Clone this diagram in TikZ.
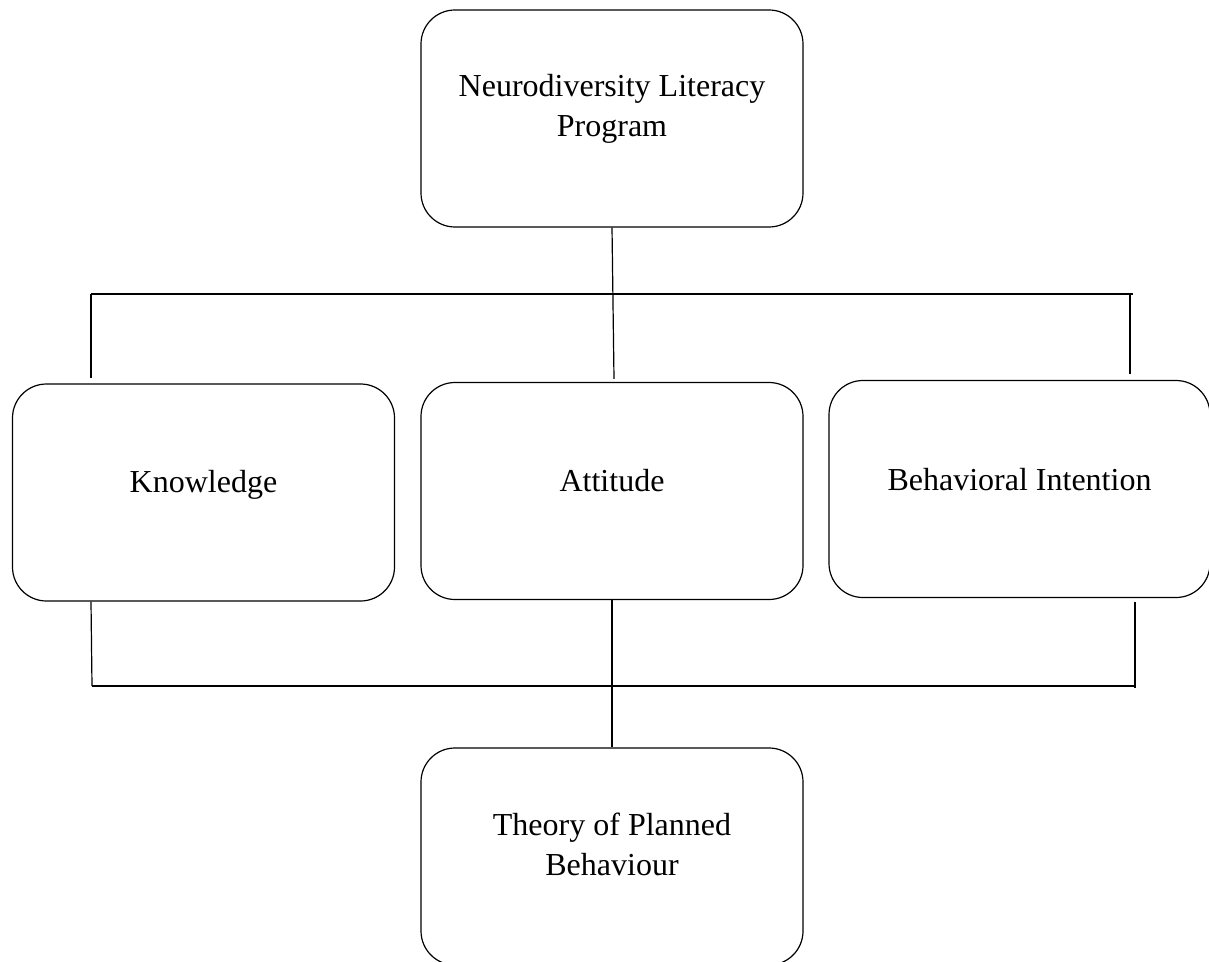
\documentclass[tikz,border=0pt]{standalone}
\usepackage{fontspec}
\setmainfont{Liberation Serif}
\usetikzlibrary{positioning}

\tikzset{
  block/.style={draw, rounded corners=17pt, line width=0.6pt, minimum width=191pt, minimum height=108.5pt, inner sep=0pt},
  lbl/.style={anchor=base, align=center, font=\fontsize{16}{20}\selectfont, inner sep=0pt},
  link/.style={line width=0.6pt}
}

\begin{document}
\begin{tikzpicture}[x=0.5pt, y=-0.5pt]
  \useasboundingbox (0,0) rectangle (1209,962);

  % Boxes
  \node[block] (prog) at (612, 118.5) {};
  \node[block] (knw) at (203.5, 492.5) {};
  \node[block] (att) at (612, 491) {};
  \node[block, minimum width=190.5pt] (beh) at (1019.5, 489) {};
  \node[block] (tpb) at (612, 856.5) {};

  % Labels (base = last line)
  \node[lbl] (progtxt) at (612, 137) {Neurodiversity Literacy\\Program};
  \node[lbl] (knwtxt) at (203.5, 492) {Knowledge};
  \node[lbl] (atttxt) at (612, 491) {Attitude};
  \node[lbl] (behtxt) at (1019.5, 490) {Behavioral Intention};
  \node[lbl] (tpbtxt) at (612, 875) {Theory of Planned\\Behaviour};

  % Upper bus
  \coordinate (ul) at (91, 294);
  \coordinate (ur) at (1133, 294);
  \draw[link] (prog.south) -- ([xshift=1pt, yshift=1.5pt]att.north);
  \draw[link] (ul) -- (ur);
  \draw[link] (ul) -- ([yshift=2.5pt]ul |- knw.north);
  \draw[link] ([xshift=-1.5pt]ur) -- ([xshift=-1.5pt, yshift=3pt]ur |- beh.north);

  % Lower bus
  \coordinate (ll) at (92, 686);
  \coordinate (lr) at (1135, 686);
  \draw[link] (ll) -- (lr);
  \draw[link] (ll) -- ([xshift=-0.5pt]ll |- knw.south);
  \draw[link] ([yshift=-1pt]lr) -- ([yshift=-2pt]lr |- beh.south);
  \draw[link] (att.south) -- (tpb.north);
\end{tikzpicture}
\end{document}
